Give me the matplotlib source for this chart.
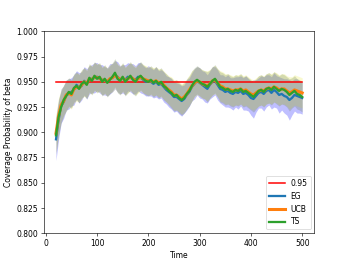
import matplotlib
matplotlib.use("Agg")
import matplotlib.pyplot as plt
from matplotlib.ticker import FormatStrFormatter
import numpy as np

time = list(range(20, 501, 5))

ts = [0.897, 0.915, 0.925, 0.932, 0.936, 0.940, 0.938, 0.944, 0.946, 0.943,
      0.948, 0.950, 0.947, 0.954, 0.951, 0.956, 0.953, 0.955, 0.950, 0.953,
      0.949, 0.952, 0.955, 0.959, 0.953, 0.951, 0.955, 0.950, 0.953, 0.956,
      0.952, 0.950, 0.954, 0.956, 0.953, 0.951, 0.950, 0.952, 0.949, 0.951,
      0.948, 0.950, 0.946, 0.944, 0.941, 0.939, 0.936, 0.937, 0.934, 0.932,
      0.934, 0.938, 0.941, 0.946, 0.950, 0.952, 0.950, 0.948, 0.947, 0.945,
      0.948, 0.951, 0.953, 0.949, 0.945, 0.944, 0.942, 0.943, 0.941, 0.940,
      0.942, 0.941, 0.943, 0.940, 0.941, 0.939, 0.937, 0.935, 0.938, 0.941,
      0.942, 0.940, 0.943, 0.944, 0.942, 0.945, 0.943, 0.941, 0.943, 0.942,
      0.940, 0.937, 0.939, 0.941, 0.938, 0.937, 0.935]

eg = [0.893, 0.912, 0.926, 0.930, 0.937, 0.938, 0.940, 0.942, 0.947, 0.944,
      0.946, 0.951, 0.948, 0.952, 0.953, 0.954, 0.955, 0.953, 0.952, 0.951,
      0.950, 0.953, 0.954, 0.957, 0.955, 0.952, 0.953, 0.952, 0.955, 0.954,
      0.953, 0.952, 0.955, 0.954, 0.952, 0.950, 0.951, 0.950, 0.948, 0.950,
      0.947, 0.948, 0.945, 0.942, 0.940, 0.938, 0.935, 0.935, 0.933, 0.931,
      0.933, 0.937, 0.940, 0.945, 0.948, 0.951, 0.949, 0.947, 0.945, 0.943,
      0.947, 0.950, 0.951, 0.947, 0.943, 0.942, 0.940, 0.941, 0.939, 0.938,
      0.940, 0.939, 0.941, 0.938, 0.939, 0.937, 0.934, 0.933, 0.936, 0.939,
      0.940, 0.938, 0.941, 0.942, 0.939, 0.942, 0.940, 0.937, 0.938, 0.936,
      0.935, 0.932, 0.934, 0.937, 0.936, 0.935, 0.934]

ucb = [0.899, 0.916, 0.927, 0.931, 0.937, 0.939, 0.937, 0.943, 0.945, 0.944,
      0.947, 0.950, 0.948, 0.953, 0.952, 0.955, 0.954, 0.954, 0.951, 0.952,
      0.950, 0.953, 0.954, 0.957, 0.954, 0.952, 0.954, 0.951, 0.953, 0.955,
      0.953, 0.951, 0.953, 0.955, 0.953, 0.952, 0.951, 0.951, 0.950, 0.951,
      0.949, 0.949, 0.947, 0.944, 0.942, 0.940, 0.937, 0.937, 0.935, 0.933,
      0.935, 0.938, 0.942, 0.946, 0.949, 0.951, 0.950, 0.948, 0.947, 0.946,
      0.948, 0.951, 0.952, 0.949, 0.946, 0.945, 0.943, 0.943, 0.942, 0.941,
      0.942, 0.942, 0.943, 0.941, 0.942, 0.940, 0.938, 0.937, 0.939, 0.941,
      0.942, 0.941, 0.943, 0.944, 0.943, 0.945, 0.944, 0.942, 0.943, 0.943,
      0.941, 0.939, 0.940, 0.942, 0.941, 0.940, 0.939]

hw_eg = [0.021, 0.019, 0.017, 0.016, 0.015, 0.015, 0.014, 0.015, 0.014, 0.015,
         0.014, 0.014, 0.015, 0.014, 0.014, 0.015, 0.014, 0.014, 0.015, 0.014,
         0.014, 0.015, 0.014, 0.014, 0.015, 0.014, 0.014, 0.015, 0.014, 0.014,
         0.015, 0.014, 0.014, 0.015, 0.014, 0.014, 0.015, 0.014, 0.014, 0.015,
         0.014, 0.014, 0.015, 0.014, 0.015, 0.015, 0.015, 0.014, 0.015, 0.015,
         0.014, 0.015, 0.014, 0.014, 0.015, 0.014, 0.015, 0.014, 0.015, 0.014,
         0.014, 0.015, 0.014, 0.015, 0.014, 0.015, 0.015, 0.016, 0.015, 0.016,
         0.015, 0.016, 0.015, 0.016, 0.017, 0.016, 0.017, 0.019, 0.016, 0.015,
         0.016, 0.017, 0.016, 0.015, 0.016, 0.017, 0.016, 0.018, 0.016, 0.017,
         0.018, 0.020, 0.017, 0.016, 0.017, 0.016, 0.016]

hw_ts = [0.019, 0.018, 0.016, 0.015, 0.015, 0.014, 0.014, 0.014, 0.014, 0.014,
         0.014, 0.014, 0.014, 0.014, 0.014, 0.014, 0.014, 0.014, 0.014, 0.014,
         0.014, 0.014, 0.014, 0.014, 0.014, 0.014, 0.014, 0.014, 0.014, 0.014,
         0.014, 0.014, 0.014, 0.014, 0.014, 0.014, 0.014, 0.014, 0.014, 0.014,
         0.014, 0.014, 0.014, 0.014, 0.014, 0.015, 0.015, 0.015, 0.015, 0.015,
         0.015, 0.015, 0.015, 0.015, 0.014, 0.014, 0.014, 0.014, 0.014, 0.015,
         0.014, 0.014, 0.014, 0.014, 0.015, 0.015, 0.015, 0.015, 0.015, 0.015,
         0.015, 0.015, 0.015, 0.015, 0.015, 0.015, 0.015, 0.015, 0.015, 0.015,
         0.015, 0.015, 0.015, 0.015, 0.015, 0.015, 0.015, 0.015, 0.015, 0.015,
         0.015, 0.016, 0.015, 0.015, 0.015, 0.015, 0.015]

hw_ucb = hw_ts

target = 0.95

fig = plt.figure(figsize=(6.4, 4.8), dpi=54.6)
ax = fig.add_subplot(111)

t = np.array(time)
ax.plot([time[0], time[-1]], [target, target], color='red', lw=2, label='0.95', zorder=3)
series = [("EG", eg, hw_eg, '#1f77b4', 'blue', 3),
          ("UCB", ucb, hw_ucb, '#ff7f0e', '#e8e840', 4),
          ("TS", ts, hw_ts, '#2ca02c', '#68804a', 3)]
for name, m, hw, c, fc, lw in series:
    m = np.array(m); hw = np.array(hw)
    ax.fill_between(t, m - hw, m + hw, color=fc, alpha=0.25, lw=0, zorder=1)
for name, m, hw, c, fc, lw in series:
    ax.plot(t, m, color=c, lw=lw, label=name, zorder=4)

ax.set_ylim(0.8, 1.0)
ax.set_xlim(-4, 524)
ax.set_yticks([0.8, 0.825, 0.85, 0.875, 0.9, 0.925, 0.95, 0.975, 1.0])
ax.yaxis.set_major_formatter(FormatStrFormatter('%.3f'))
ax.set_xlabel("Time")
ax.set_ylabel("Coverage Probability of beta")
ax.legend(loc='lower right')
fig.savefig("out.png", dpi=54.6)
